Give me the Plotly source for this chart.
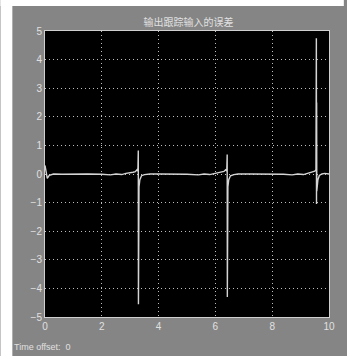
import plotly.graph_objects as go

t = [0, 0.03, 0.08, 0.15, 0.3, 0.6, 1.0, 1.5, 2.0, 2.3, 2.5, 2.7, 2.85, 3.0, 3.1, 3.18, 3.24,
     3.27, 3.285, 3.29, 3.295, 3.31, 3.34, 3.4, 3.5, 3.7, 4.0, 4.5, 5.0, 5.4, 5.6, 5.8, 6.0,
     6.1, 6.2, 6.3, 6.36, 6.4, 6.415, 6.42, 6.425, 6.44, 6.47, 6.53, 6.65, 6.8, 7.2, 7.8,
     8.4, 8.7, 8.9, 9.1, 9.25, 9.35, 9.45, 9.5, 9.54, 9.555, 9.56, 9.565, 9.57, 9.58, 9.61,
     9.66, 9.75, 9.85, 10.0]
err = [0.3, 0.05, -0.15, -0.05, 0.0, -0.01, 0.0, 0.0, -0.01, -0.03, 0.0, -0.02, 0.02, 0.03,
       0.06, 0.08, 0.15, 0.1, 0.82, -4.55, -0.7, -0.45, -0.2, -0.06, -0.02, 0.0, 0.0, 0.0,
       -0.01, -0.03, 0.0, -0.02, 0.02, 0.04, 0.06, 0.09, 0.15, 0.1, 0.68, -4.3, -0.7, -0.45,
       -0.2, -0.06, -0.02, 0.0, 0.0, 0.0, -0.01, -0.03, 0.0, -0.02, 0.03, 0.05, 0.08, 0.1,
       0.15, 4.75, -1.05, 2.5, -0.6, -0.4, -0.2, -0.05, 0.0, 0.02, 0.0]

x_ticks = [0, 2, 4, 6, 8, 10]
y_ticks = [-5, -4, -3, -2, -1, 0, 1, 2, 3, 4, 5]
title_text = "输出跟踪输入的误差"
offset_text = "Time offset:  0"

gray = "#858585"
light = "#e0e0e0"

fig = go.Figure()
fig.add_trace(go.Scatter(x=t, y=err, mode="lines",
                         line=dict(color="#d4d4d4", width=1.4), showlegend=False))

axis_common = dict(showgrid=True, gridcolor="#bdbdbd", griddash="1px,3px", gridwidth=1,
                   showline=True, linecolor="#d0d0d0", linewidth=1, mirror=True,
                   zeroline=False, ticks="", tickfont=dict(family="Liberation Sans", size=10, color=light))

fig.update_xaxes(range=[0, 10], tickvals=x_ticks, **axis_common)
fig.update_yaxes(range=[-5, 5], tickvals=y_ticks, ticksuffix=" ", **axis_common)

fig.update_layout(
    width=347, height=356,
    margin=dict(l=45, r=15, t=31, b=39),
    paper_bgcolor=gray, plot_bgcolor="black",
    title=dict(text=title_text, x=(45 + 332) / 2 / 347, xanchor="center",
               y=1 - 22 / 356, yanchor="middle",
               font=dict(family="Noto Sans CJK SC", size=10, color=light)),
    annotations=[dict(text=offset_text, xref="paper", yref="paper",
                      x=(12 - 45) / 287, y=(317 - 347) / 286, xanchor="left", yanchor="middle",
                      showarrow=False, font=dict(family="Liberation Sans", size=9, color=light))],
    shapes=[
        dict(type="rect", xref="paper", yref="paper", x0=(0 - 45) / 287, x1=(12 - 45) / 287,
             y0=(317 - 356) / 286, y1=(317 - 0) / 286, fillcolor="white", line=dict(width=0), layer="above"),
        dict(type="rect", xref="paper", yref="paper", x0=(0 - 45) / 287, x1=(347 - 45) / 287,
             y0=(317 - 6) / 286, y1=(317 - 0) / 286, fillcolor="white", line=dict(width=0), layer="above"),
    ],
)

fig.write_html("out.html", config={"displayModeBar": False})
